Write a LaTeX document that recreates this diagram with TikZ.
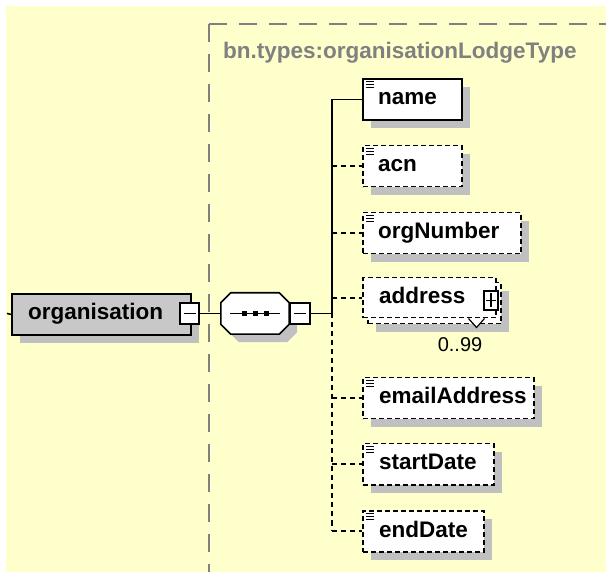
\documentclass[tikz,border=0pt]{standalone}
\usepackage{fontspec}
\setmainfont{Liberation Sans}
\usetikzlibrary{shadows,calc}
\definecolor{bgyellow}{RGB}{255,255,204}
\definecolor{framegray}{RGB}{128,128,128}
\definecolor{shgray}{RGB}{192,192,192}
\definecolor{orgfill}{RGB}{200,200,200}
\newcommand\elemicon[1]{\foreach \d in {3.5,6.5,9.5} {\draw[iconline] ($(#1.north west)+(4,\d)$) -- ++(8,0);}}
\begin{document}
\begin{tikzpicture}[x=1pt,y=-1pt,
  conn/.style={line width=1.6pt},
  optconn/.style={line width=1.6pt, dash pattern=on 5pt off 4pt},
  frameline/.style={line width=2pt, draw=framegray, dash pattern=on 18pt off 12pt},
  shad/.style={drop shadow={shadow xshift=8pt, shadow yshift=-8pt, opacity=1, fill=shgray}},
  basebox/.style={draw, fill=white, minimum height=41pt, inner sep=0pt, anchor=north west},
  solidbox/.style={basebox, line width=1.8pt, shad},
  optplain/.style={basebox, line width=1.5pt, dash pattern=on 5pt off 3pt},
  optbox/.style={optplain, shad},
  orgbox/.style={basebox, fill=orgfill, line width=1.8pt, shad},
  smallbox/.style={draw, fill=white, line width=1.4pt, inner sep=0pt, minimum height=21pt},
  elabel/.style={font=\fontsize{22.5}{27}\selectfont\bfseries, anchor=base west, inner sep=0pt},
  iconline/.style={line width=1.1pt},
]
\useasboundingbox (0,0) rectangle (606,572);
\clip (0,0) rectangle (606,572);
\fill[white] (0,0) rectangle (606,572);
\fill[bgyellow] (6,6) rectangle (606,572);

% type frame
\coordinate (fc) at (209,24);
\coordinate (fr) at (640,24);
\coordinate (fb) at (209,600);
\draw[frameline] (fc) -- (fr);
\draw[frameline] (fc) -- (fb);
\node[font=\fontsize{22.5}{27}\selectfont\bfseries, text=framegray, anchor=base west, inner sep=0pt] (title) at (223,58.3) {bn.types:organisationLodgeType};

% spine coordinates
\coordinate (lstart) at (7,313.5);
\coordinate (jn) at (332,313.5);
\coordinate (spbot) at (332,530.5);

% organisation
\node[orgbox, minimum width=179pt] (org) at (11,293) {};
\node[elabel] (orgt) at (28,319.5) {organisation};
\node[smallbox, minimum width=19pt] (orgm) at (189.5,313.5) {};
\draw[line width=1.3pt] ($(orgm.center)+(-6,0)$) -- ($(orgm.center)+(6,0)$);

% sequence
\node[inner sep=0pt, minimum width=68pt, minimum height=41pt] (seq) at (255,313.5) {};
\coordinate (o1) at ($(seq.north west)+(10,0)$);
\coordinate (o2) at ($(seq.north east)+(-10,0)$);
\coordinate (o3) at ($(seq.north east)+(0,10)$);
\coordinate (o4) at ($(seq.south east)+(0,-10)$);
\coordinate (o5) at ($(seq.south east)+(-10,0)$);
\coordinate (o6) at ($(seq.south west)+(10,0)$);
\coordinate (o7) at ($(seq.south west)+(0,-10)$);
\coordinate (o8) at ($(seq.north west)+(0,10)$);
\fill[shgray] ($(o1)+(8,8)$) -- ($(o2)+(8,8)$) -- ($(o3)+(8,8)$) -- ($(o4)+(8,8)$) -- ($(o5)+(8,8)$) -- ($(o6)+(8,8)$) -- ($(o7)+(8,8)$) -- ($(o8)+(8,8)$) -- cycle;
\draw[line width=1.6pt, fill=white] (o1) -- (o2) -- (o3) -- (o4) -- (o5) -- (o6) -- (o7) -- (o8) -- cycle;
\draw[conn] ($(seq.center)+(-25,0)$) -- ($(seq.center)+(25,0)$);
\foreach \dx in {-11,0,11} {\fill ($(seq.center)+(\dx-2.5,-2.5)$) rectangle ++(5,5);}
\node[smallbox, minimum width=20pt] (seqm) at (300,313.5) {};
\draw[line width=1.3pt] ($(seqm.center)+(-6,0)$) -- ($(seqm.center)+(6,0)$);

% elements
\node[solidbox, minimum width=99pt] (name) at (362,78) {};
\node[elabel] (namet) at (378,105) {name};
\elemicon{name}

\node[optbox, minimum width=99pt] (acn) at (362,145) {};
\node[elabel] (acnt) at (378,172) {acn};
\elemicon{acn}

\node[optbox, minimum width=158pt] (orgn) at (362,212) {};
\node[elabel] (orgnt) at (378,239) {orgNumber};
\elemicon{orgn}

\node[optbox, minimum width=133pt] (addrb) at (367,282) {};
\node[optplain, minimum width=133pt, minimum height=40pt] (addr) at (362,277) {};
\node[elabel] (addrt) at (379,303.5) {address};
\node[smallbox, minimum width=14pt, minimum height=19pt] (addrp) at (491,300.5) {};
\draw[line width=1.3pt] ($(addrp.center)+(-5,0)$) -- ($(addrp.center)+(5,0)$);
\draw[line width=1.3pt] ($(addrp.center)+(0,-7)$) -- ($(addrp.center)+(0,7)$);
\draw[line width=1.2pt, fill=white] ($(addr.south east)+(-28,0)$) -- ($(addr.south east)+(-20,9)$) -- ($(addr.south east)+(-12,0)$);
\node[font=\fontsize{20}{24}\selectfont, anchor=base, inner sep=0pt] (occ) at (460,352) {0..99};

\node[optbox, minimum width=171pt] (email) at (362,377) {};
\node[elabel] (emailt) at (379,404) {emailAddress};
\elemicon{email}

\node[optbox, minimum width=131pt] (start) at (362,443) {};
\node[elabel] (startt) at (379,470) {startDate};
\elemicon{start}

\node[optbox, minimum width=121pt] (endd) at (362,510) {};
\node[elabel] (enddt) at (379,537) {endDate};
\elemicon{endd}

% connectors
\draw[conn] (lstart) -- (org.west);
\draw[conn] (orgm.east) -- (seq.west);
\draw[conn] (seqm.east) -- (jn);
\draw[conn] (jn) |- (name.west);
\draw[optconn] (jn) -- (spbot);
\draw[optconn] (acn.west -| jn) -- (acn.west);
\draw[optconn] (orgn.west -| jn) -- (orgn.west);
\draw[optconn] (addr.west -| jn) -- (addr.west);
\draw[optconn] (email.west -| jn) -- (email.west);
\draw[optconn] (start.west -| jn) -- (start.west);
\draw[optconn] (endd.west -| jn) -- (endd.west);
\end{tikzpicture}
\end{document}
